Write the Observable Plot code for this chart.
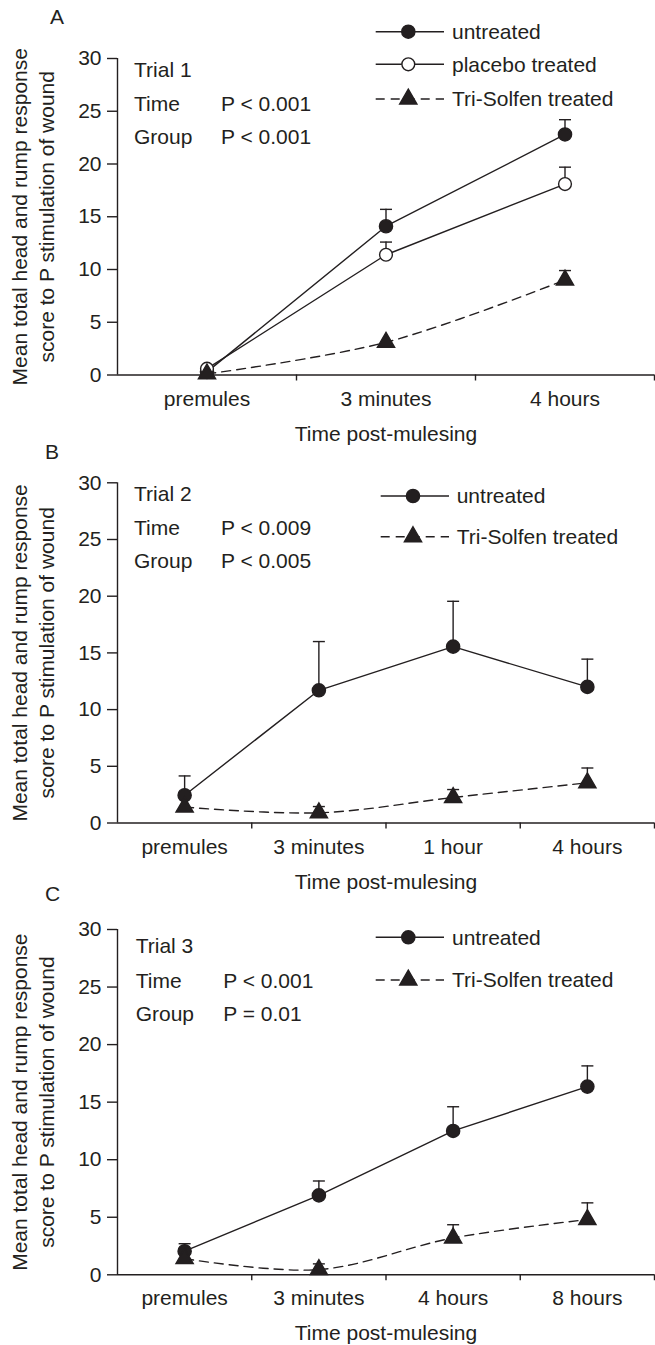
<!DOCTYPE html>
<html><head><meta charset="utf-8">
<script src="https://cdn.jsdelivr.net/npm/d3@7"></script>
<script src="https://cdn.jsdelivr.net/npm/@observablehq/plot@0.6"></script>
<style>
body{margin:0;background:#fff;}
#chart{position:relative;width:655px;height:1345px;overflow:hidden;}
#chart svg{position:absolute;left:0;overflow:visible;}
</style></head><body><div id="chart"></div>
<script>
// ---- data ----
const yTicks = [0, 5, 10, 15, 20, 25, 30];
const yLabel = "Mean total head and rump response\nscore to P stimulation of wound";
const xLabel = "Time post-mulesing";
const seriesNames = ["untreated", "placebo treated", "Tri-Solfen treated"];

const catsA = ["premules", "3 minutes", "4 hours"];
const untreatedA = [0.3, 14.1, 22.8];
const untreatedErrA = [null, 1.6, 1.4];
const placeboA = [0.6, 11.4, 18.1];
const placeboErrA = [null, 1.2, 1.6];
const triA = [0.1, 3.1, 9.0];
const triErrA = [null, null, 0.9];
const statsA = ["Trial 1", "P < 0.001", "P < 0.001"];

const catsB = ["premules", "3 minutes", "1 hour", "4 hours"];
const untreatedB = [2.45, 11.7, 15.55, 12.0];
const untreatedErrB = [1.7, 4.3, 4.0, 2.45];
const triB = [1.4, 0.9, 2.25, 3.55];
const triErrB = [null, 0.55, 0.7, 1.3];
const statsB = ["Trial 2", "P < 0.009", "P < 0.005"];

const catsC = ["premules", "3 minutes", "4 hours", "8 hours"];
const untreatedC = [2.05, 6.9, 12.5, 16.35];
const untreatedErrC = [0.65, 1.25, 2.1, 1.8];
const triC = [1.4, 0.45, 3.2, 4.8];
const triErrC = [null, 0.5, 1.15, 1.45];
const statsC = ["Trial 3", "P < 0.001", "P = 0.01"];

// ---- styles ----
const INK = "#231f20";
const FONT = "'Liberation Sans', Arial, Helvetica, sans-serif";
const FS = 21;
const SW = 1.4;
const styles = {
  "untreated": {symbol: "circle", r: 6.6, fill: INK, dash: null, curve: "linear"},
  "placebo treated": {symbol: "circle", r: 6.4, fill: "white", dash: null, curve: "linear"},
  "Tri-Solfen treated": {symbol: "triangle", r: 6.4, fill: INK, dash: "9,6", curve: "catmull-rom"}
};
const capSymbol = {draw(ctx, size) { const r = Math.sqrt(size / Math.PI); ctx.moveTo(-r, 0); ctx.lineTo(r, 0); }};

function panel(cfg) {
  const n = cfg.cats.length;
  const boundaries = d3.range(n).map(i => i + 0.5);
  const marks = [
    Plot.ruleY([0], {stroke: INK, strokeWidth: SW}),
    Plot.ruleX([-0.5], {y1: 0, y2: 30, stroke: INK, strokeWidth: SW}),
    Plot.axisY({ticks: yTicks, tickSize: 10, tickPadding: 6, label: null, stroke: INK, strokeWidth: SW, fontSize: FS}),
    Plot.axisX({ticks: boundaries, tickSize: 6, tickFormat: () => "", label: null, stroke: INK, strokeWidth: SW}),
    Plot.text(cfg.cats, {x: (d, i) => i, text: d => d, frameAnchor: "bottom", lineAnchor: "bottom", dy: 30.5, fontSize: FS, fill: INK}),
    Plot.text([xLabel], {text: d => d, frameAnchor: "bottom", textAnchor: "middle", lineAnchor: "bottom", dy: 65.5, fontSize: FS, fill: INK}),
    Plot.text([yLabel], {text: d => d, frameAnchor: "left", textAnchor: "middle", lineAnchor: "middle", rotate: -90, dx: -85.5, lineHeight: 1.3, fontSize: FS, fill: INK})
  ];
  const all = cfg.series.map(s => ({
    name: s.name, st: styles[s.name],
    data: cfg.cats.map((c, i) => ({i, v: s.values[i], e: s.errs[i]}))
  }));
  for (const s of all) {
    marks.push(Plot.line(s.data, {x: "i", y: "v", stroke: INK, strokeWidth: SW, strokeDasharray: s.st.dash, curve: s.st.curve}));
  }
  for (const s of all) {
    const ed = s.data.filter(d => d.e != null);
    marks.push(Plot.ruleX(ed, {x: "i", y1: "v", y2: d => d.v + d.e, stroke: INK, strokeWidth: SW}));
    marks.push(Plot.dot(ed, {x: "i", y: d => d.v + d.e, symbol: capSymbol, r: 6, stroke: INK, fill: "none", strokeWidth: SW}));
  }
  for (const s of all) {
    marks.push(Plot.dot(s.data, {x: "i", y: "v", symbol: s.st.symbol, r: s.st.r, fill: s.st.fill, stroke: INK, strokeWidth: SW}));
  }
  const node = Plot.plot({
    width: 655, height: cfg.height,
    marginTop: cfg.marginTop, marginBottom: cfg.marginBottom, marginLeft: 117, marginRight: 1,
    x: {type: "linear", domain: [-0.5, n - 0.5]},
    y: {type: "linear", domain: [0, 30]},
    style: {fontFamily: FONT, fontSize: FS + "px", color: INK, background: "transparent", overflow: "visible"},
    marks
  });
  node.style.top = cfg.top + "px";
  const svg = d3.select(node);
  const g = svg.append("g").attr("font-family", FONT).attr("font-size", FS).attr("fill", INK).attr("text-anchor", "start");
  // panel letter
  g.append("text").attr("x", cfg.letterPos[0]).attr("y", cfg.letterPos[1]).attr("dy", "0.35em").text(cfg.letter);
  // statistics block
  const [sx, px, ys] = cfg.statsPos;
  g.append("text").attr("x", sx).attr("y", ys[0]).attr("dy", "0.35em").text(cfg.stats[0]);
  g.append("text").attr("x", sx).attr("y", ys[1]).attr("dy", "0.35em").text("Time");
  g.append("text").attr("x", px).attr("y", ys[1]).attr("dy", "0.35em").text(cfg.stats[1]);
  g.append("text").attr("x", sx).attr("y", ys[2]).attr("dy", "0.35em").text("Group");
  g.append("text").attr("x", px).attr("y", ys[2]).attr("dy", "0.35em").text(cfg.stats[2]);
  // legend
  const L = cfg.legend;
  all.forEach((s, k) => {
    const y = L.ys[k];
    g.append("line").attr("x1", L.x1).attr("x2", L.x2).attr("y1", y).attr("y2", y)
      .attr("stroke", INK).attr("stroke-width", SW).attr("stroke-dasharray", s.st.dash);
    const sym = s.st.symbol === "circle" ? d3.symbolCircle : d3.symbolTriangle;
    g.append("path").attr("transform", `translate(${L.xm},${y})`)
      .attr("d", d3.symbol(sym, Math.PI * s.st.r * s.st.r)())
      .attr("fill", s.st.fill).attr("stroke", INK).attr("stroke-width", SW);
    g.append("text").attr("x", L.xt).attr("y", y).attr("dy", "0.35em").text(s.name);
  });
  document.getElementById("chart").appendChild(node);
}

panel({
  cats: catsA, letter: "A", stats: statsA, top: 0, height: 445, marginTop: 58, marginBottom: 70.5,
  series: [
    {name: seriesNames[0], values: untreatedA, errs: untreatedErrA},
    {name: seriesNames[1], values: placeboA, errs: placeboErrA},
    {name: seriesNames[2], values: triA, errs: triErrA}
  ],
  letterPos: [50, 16.7], statsPos: [134, 221, [69.5, 103.5, 137]],
  legend: {x1: 375.7, x2: 444, xm: 408.3, xt: 452, ys: [31.7, 64.3, 99]}
});
panel({
  cats: catsB, letter: "B", stats: statsB, top: 440, height: 455, marginTop: 42.3, marginBottom: 72.5,
  series: [
    {name: seriesNames[0], values: untreatedB, errs: untreatedErrB},
    {name: seriesNames[2], values: triB, errs: triErrB}
  ],
  letterPos: [45, 11.7], statsPos: [134, 221, [54, 87.5, 121]],
  legend: {x1: 380.7, x2: 449, xm: 413, xt: 456.7, ys: [56, 96.7]}
});
panel({
  cats: catsC, letter: "C", stats: statsC, top: 880, height: 465, marginTop: 49, marginBottom: 70.7,
  series: [
    {name: seriesNames[0], values: untreatedC, errs: untreatedErrC},
    {name: seriesNames[2], values: triC, errs: triErrC}
  ],
  letterPos: [45, 13.3], statsPos: [135.7, 223.3, [66, 100.5, 134]],
  legend: {x1: 375.7, x2: 444, xm: 408.3, xt: 452, ys: [57.3, 100]}
});
</script></body></html>
